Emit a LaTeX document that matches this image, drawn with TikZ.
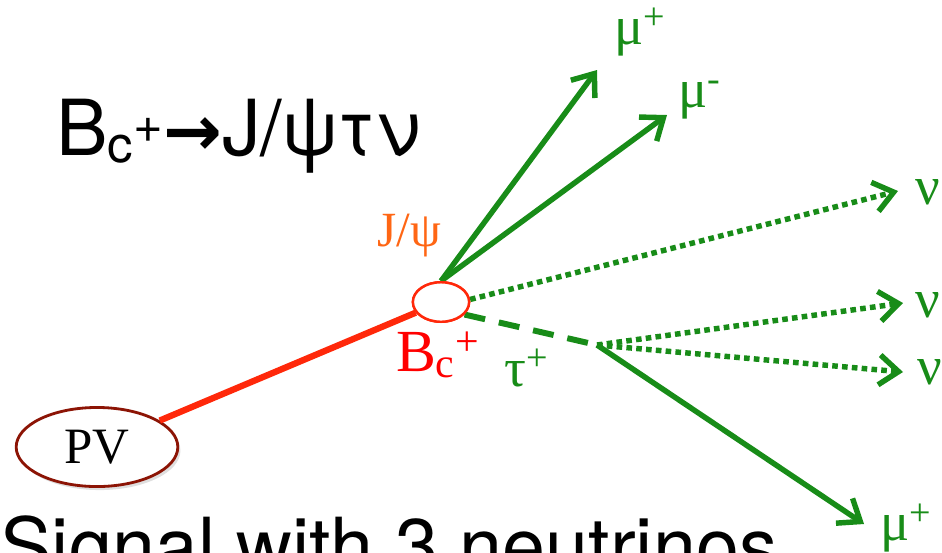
\documentclass[tikz,border=0pt]{standalone}
\usepackage{fontspec}
\setmainfont{Liberation Serif}
\setsansfont{TeX Gyre Heros}
\newfontfamily\setafont{DejaVu Sans}
\usepackage{tikz}
\usetikzlibrary{shapes, arrows.meta, positioning, calc, shadows}

\definecolor{verde}{RGB}{24,140,24}
\definecolor{vermelho}{RGB}{255,40,10}
\definecolor{vinho}{RGB}{140,20,5}
\definecolor{laranja}{RGB}{255,102,20}

\begin{document}
\begin{tikzpicture}[
        x=0.02cm, y=-0.02cm, % 1 unidade = 1 pixel da figura
        vertice/.style={ellipse, draw, fill=white, inner sep=0pt},
        rotulo/.style={text=verde, inner sep=0pt, font=\fontsize{31}{32}\selectfont},
        traco/.style={line width=3.1pt, color=verde, -{Straight Barb[length=11pt, width=17pt]}},
        pontilhada/.style={traco, line cap=butt, dash pattern=on 3.2pt off 2.4pt},
        tracejada/.style={line width=3.4pt, color=verde, dash pattern=on 12pt off 8pt}
        ]
        \useasboundingbox (0,0) rectangle (942,552);
        \clip (0,0) rectangle (942,552);

        % Titulo e legenda
        \node[anchor=base west, inner sep=0pt, font=\sffamily\fontsize{44}{48}\selectfont] (titulo) at (56,155)
            {B{\fontsize{29}{30}\selectfont\raisebox{-4pt}{c}\raisebox{7pt}{+}}{\setafont\bfseries\fontsize{40}{40}\selectfont →}J/ψτν};
        \node[anchor=base west, inner sep=0pt, font=\sffamily\fontsize{44}{48}\selectfont] (legenda) at (0,573)
            {Signal with 3 neutrinos};

        % Vertices
        \node[vertice, draw=vinho, line width=1.6pt, minimum width=92pt, minimum height=45pt,
              drop shadow={opacity=0.25, shadow xshift=1.5pt, shadow yshift=-2pt},
              font=\fontsize{29}{30}\selectfont] (pv) at (97,447) {PV};
        \node[vertice, draw=vermelho, line width=1.4pt, minimum width=32pt, minimum height=22.5pt] (bc) at (441,302) {};
        \coordinate (tau) at (597,345);

        % Pontas das setas
        \coordinate (mu1f) at (597,70);
        \coordinate (mu2f) at (667,115);
        \coordinate (nu1f) at (898,191);
        \coordinate (nu2f) at (903,303);
        \coordinate (nu3f) at (903,372);
        \coordinate (mu3f) at (864,524);

        % Trajetorias
        \draw[color=vermelho, line width=3.6pt] (pv) -- (bc);
        \draw[traco] (bc.north) -- (mu1f);
        \draw[traco] (bc.north) -- (mu2f);
        \draw[pontilhada] (bc.5) -- (nu1f);
        \draw[tracejada] (bc.-28) -- (tau);
        \draw[pontilhada] (tau) -- (nu2f);
        \draw[pontilhada] (tau) -- (nu3f);
        \draw[traco] (tau) -- (mu3f);
        \node[vertice, draw=vermelho, line width=1.4pt, minimum width=32pt, minimum height=22.5pt] at (bc) {};

        % Rotulos
        \node[rotulo, text=laranja, font=\fontsize{28}{30}\selectfont] (jpsi) at (409,236) {J/ψ};
        \node[rotulo, text=red, font=\fontsize{34}{36}\selectfont] (bclbl) at (438,355) {B\textsubscript{c}\textsuperscript{+}};
        \node[rotulo] (taulbl) at (527,368) {τ\textsuperscript{+}};
        \node[rotulo] (mu1) at (640,32) {μ\textsuperscript{+}};
        \node[rotulo] (mu2) at (700,100) {μ\textsuperscript{-}};
        \node[rotulo] (nu1) at (928,192) {ν};
        \node[rotulo] (nu2) at (928,305) {ν};
        \node[rotulo] (nu3) at (930,372) {ν};
        \node[rotulo] (mu3) at (906,528) {μ\textsuperscript{+}};
    \end{tikzpicture}
\end{document}
